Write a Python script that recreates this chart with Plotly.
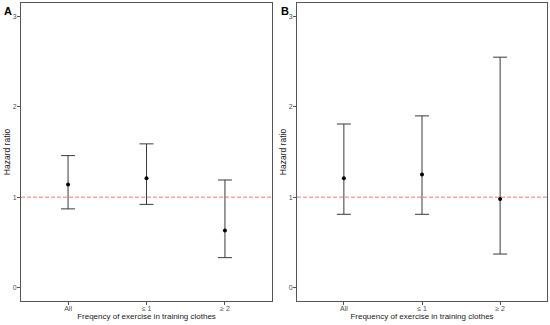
import plotly.graph_objects as go

categories = ["All", "\u2264 1", "\u2265 2"]

hr_a = [1.14, 1.21, 0.63]
lo_a = [0.87, 0.92, 0.33]
hi_a = [1.46, 1.59, 1.19]

hr_b = [1.21, 1.25, 0.98]
lo_b = [0.81, 0.81, 0.37]
hi_b = [1.81, 1.90, 2.55]

y_ticks = [0, 1, 2, 3]

fig = go.Figure()

def add_panel(hr, lo, hi, xa, ya):
    fig.add_trace(go.Scatter(
        x=categories, y=hr, mode="markers",
        marker=dict(color="black", size=4),
        error_y=dict(type="data", symmetric=False,
                     array=[h - m for h, m in zip(hi, hr)],
                     arrayminus=[m - l for m, l in zip(hr, lo)],
                     color="#3a3a3a", thickness=1, width=7),
        xaxis=xa, yaxis=ya, showlegend=False, hoverinfo="skip"))

add_panel(hr_a, lo_a, hi_a, "x", "y")
add_panel(hr_b, lo_b, hi_b, "x2", "y2")

for xr in ["x", "x2"]:
    yr = "y" if xr == "x" else "y2"
    fig.add_shape(type="line", xref=f"{xr} domain", yref=yr, x0=0, x1=1, y0=1, y1=1,
                  line=dict(color="rgba(235,90,90,0.8)", width=1, dash="4px,2px"))

FONT = "Liberation Sans, Arial"
axis_common = dict(showline=True, mirror=True, linecolor="#555555", linewidth=1,
                   ticks="outside", ticklen=3, tickcolor="#555555", showgrid=False,
                   zeroline=False, automargin=False,
                   tickfont=dict(family=FONT, size=7, color="#4d4d4d"))
xtitle_font = dict(family=FONT, size=8, color="#1a1a1a")
ytitle_font = dict(family=FONT, size=8.5, color="#1a1a1a")

fig.update_layout(
    width=550, height=325,
    margin=dict(l=0, r=0, t=3, b=24),
    plot_bgcolor="white", paper_bgcolor="white",
    xaxis=dict(domain=[21/550, 272/550], type="category", range=[-0.6, 2.6], ticklabelstandoff=-2,
               title=dict(text="Freqency of exercise in training clothes", standoff=0, font=xtitle_font),
               **axis_common),
    xaxis2=dict(domain=[297/550, 547/550], type="category", range=[-0.6, 2.6], anchor="y2",
                ticklabelstandoff=-2,
                title=dict(text="Frequency of exercise in training clothes", standoff=0, font=xtitle_font),
                **axis_common),
    yaxis=dict(range=[-0.15, 3.15], tickvals=y_ticks, anchor="x", ticklabelstandoff=-1,
               title=dict(text="Hazard ratio", standoff=0, font=ytitle_font),
               **axis_common),
    yaxis2=dict(range=[-0.15, 3.15], tickvals=y_ticks, anchor="x2", ticklabelstandoff=-1,
                title=dict(text="Hazard ratio", standoff=0, font=ytitle_font),
                **axis_common),
    annotations=[
        dict(text="<b>A</b>", x=2/550, y=1, xref="paper", yref="paper", xanchor="left", yanchor="top",
             showarrow=False, font=dict(family=FONT, size=11, color="black"), yshift=0),
        dict(text="<b>B</b>", x=279/550, y=1, xref="paper", yref="paper", xanchor="left", yanchor="top",
             showarrow=False, font=dict(family=FONT, size=11, color="black"), yshift=0),
    ],
)

fig.write_html("out.html", config={"displayModeBar": False},
               post_script="document.body.style.margin='0';document.body.style.overflow='hidden';")
